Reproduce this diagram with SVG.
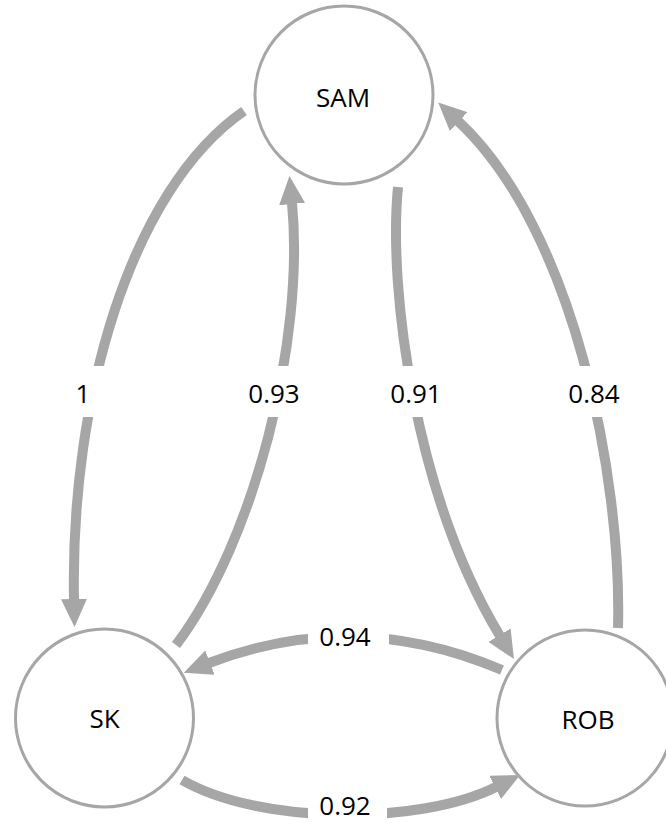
<svg xmlns="http://www.w3.org/2000/svg" width="666" height="823" viewBox="0 0 666 823">
<style>
.node{fill:#fff;stroke:#a6a6a6;stroke-width:3}
.edge{fill:none;stroke:#a6a6a6;stroke-width:10;marker-end:url(#ah)}
.t{font-family:"Open Sans","Noto Sans","Liberation Sans",sans-serif;font-size:26px;fill:#000;text-anchor:middle}
.bg{fill:#fff}
</style>
<defs>
<marker id="ah" markerUnits="userSpaceOnUse" viewBox="0 0 28 26" refX="1" refY="13" markerWidth="28" markerHeight="26" orient="auto">
<polygon points="0,0 28,13 0,26" fill="#a6a6a6"/>
</marker>
</defs>
<rect width="666" height="823" fill="#fff"/>
<g id="connectors">
<path class="edge" d="M244,111 C130,190 70,400 74,600"/>
<path class="edge" d="M176,645 C255,540 305,340 292,203"/>
<path class="edge" d="M398,187 C388,290 415,495 500,636"/>
<path class="edge" d="M618,628 C622,480 575,230 458,121"/>
<path class="edge" d="M502,670 Q355,607 209,663"/>
<path class="edge" d="M182,780 C260,825 420,825 496,787"/>
</g>
<g id="labels">
<g id="label-1"><rect class="bg" x="68" y="366" width="44" height="51"/><text class="t" x="83" y="403">1</text></g>
<g id="label-093"><rect class="bg" x="245" y="366" width="60" height="51"/><text class="t" x="274" y="403">0.93</text></g>
<g id="label-091"><rect class="bg" x="387" y="366" width="58" height="51"/><text class="t" x="416" y="403">0.91</text></g>
<g id="label-084"><rect class="bg" x="565" y="366" width="58" height="51"/><text class="t" x="594" y="403">0.84</text></g>
<g id="label-094"><rect class="bg" x="308" y="618" width="81" height="40"/><text class="t" x="345" y="646">0.94</text></g>
<g id="label-092"><rect class="bg" x="308" y="795" width="79" height="28"/><text class="t" x="345" y="815">0.92</text></g>
</g>
<g id="node-sam"><circle class="node" cx="344" cy="95" r="89"/><text class="t" x="343" y="107">SAM</text></g>
<g id="node-sk"><circle class="node" cx="104.5" cy="718" r="89"/><text class="t" x="104.5" y="728">SK</text></g>
<g id="node-rob"><circle class="node" cx="585" cy="718" r="88"/><text class="t" x="588" y="729">ROB</text></g>
</svg>
